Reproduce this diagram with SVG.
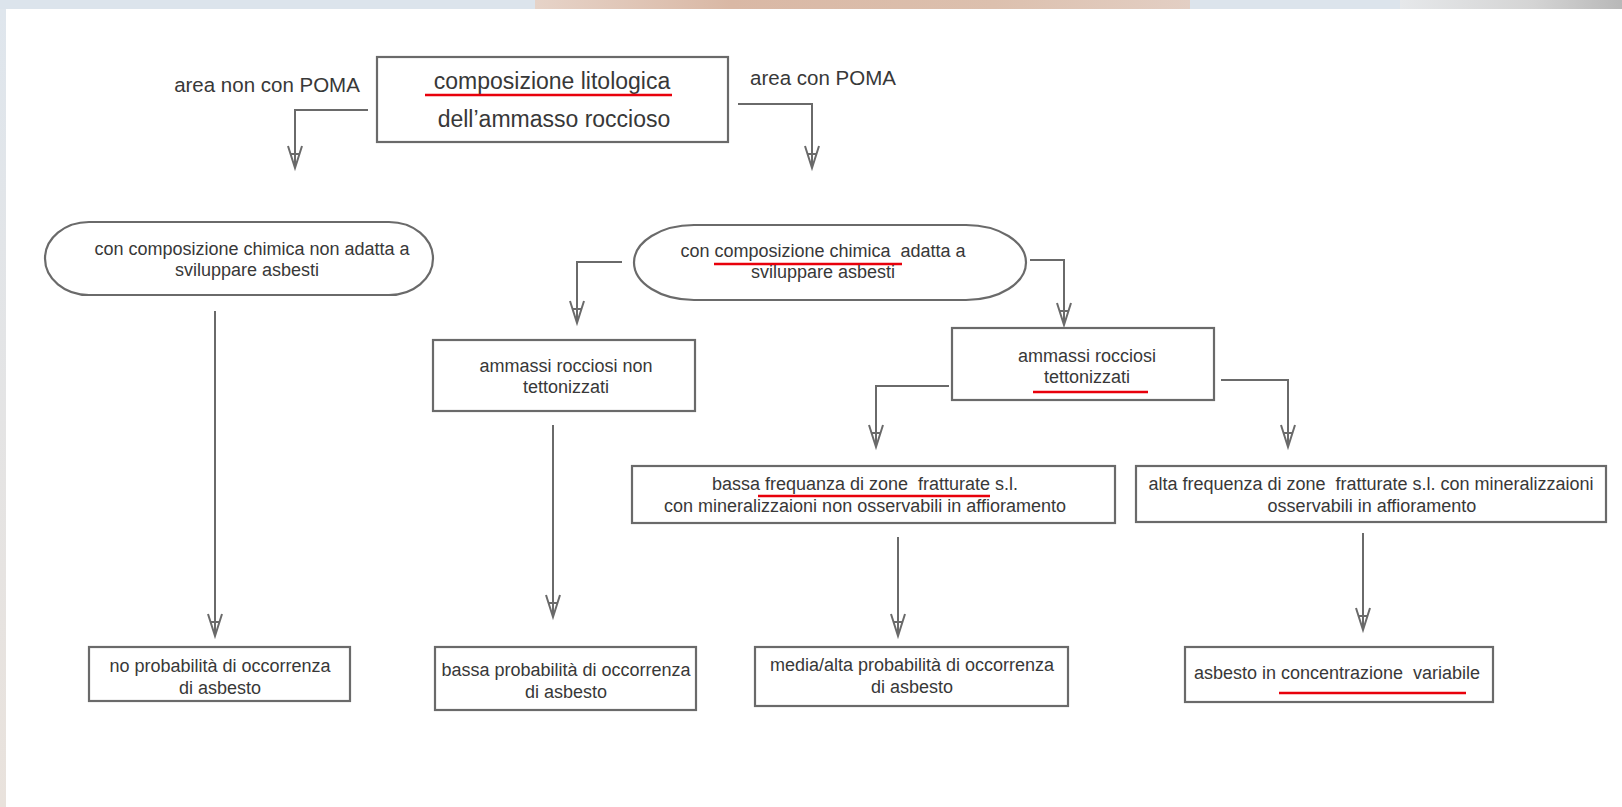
<svg xmlns="http://www.w3.org/2000/svg" width="1622" height="807" viewBox="0 0 1622 807">
<style>
.nd{fill:#fff;stroke:#6a6a6a;stroke-width:2.2}
.t{font-family:"Liberation Sans",Arial,sans-serif;font-size:18px;fill:#383838;text-anchor:middle}
.tl{font-size:23px}
.tp{font-size:20.5px}
.cn{fill:none;stroke:#6a6a6a;stroke-width:2;marker-end:url(#arr)}
.ul{stroke:#e8000b;stroke-width:2.5}
</style>
<defs>
<marker id="arr" markerUnits="userSpaceOnUse" markerWidth="30" markerHeight="20" viewBox="-25 -10 30 20" refX="0" refY="0" orient="auto" overflow="visible">
<path d="M-22,-7 L0,0 L-22,7 M-14,-4.5 L-14,4.5" fill="none" stroke="#6a6a6a" stroke-width="2"/>
</marker>
<linearGradient id="photo" x1="0" x2="1" y1="0" y2="0">
<stop offset="0" stop-color="#e6d3c8"/>
<stop offset="0.3" stop-color="#d9b8a5"/>
<stop offset="0.7" stop-color="#dcc0ae"/>
<stop offset="1" stop-color="#e3cfc4"/>
</linearGradient>
<linearGradient id="swirl" x1="0" x2="1" y1="0" y2="0">
<stop offset="0" stop-color="#e6e8ea"/>
<stop offset="0.6" stop-color="#d4d4d4"/>
<stop offset="1" stop-color="#b8b8b8"/>
</linearGradient>
<linearGradient id="lstrip" x1="0" x2="0" y1="0" y2="1">
<stop offset="0" stop-color="#dfe6ed"/>
<stop offset="1" stop-color="#e9e2dc"/>
</linearGradient>
</defs>
<g id="background">
<rect x="0" y="0" width="1622" height="807" fill="#fff"/>
<rect x="0" y="0" width="1622" height="9" fill="#dce4ec"/>
<rect x="535" y="0" width="655" height="9" fill="url(#photo)"/>
<rect x="1400" y="0" width="222" height="9" fill="url(#swirl)"/>
<rect x="0" y="9" width="6" height="798" fill="url(#lstrip)"/>
</g>
<g id="connectors">
<path class="cn" d="M368,110 H295 V168"/>
<path class="cn" d="M738,104 H812 V168"/>
<path class="cn" d="M215,311 V636"/>
<path class="cn" d="M622,262 H577 V323"/>
<path class="cn" d="M1030,260 H1064 V325"/>
<path class="cn" d="M553,425 V617"/>
<path class="cn" d="M949,386 H876 V447"/>
<path class="cn" d="M1221,380 H1288 V447"/>
<path class="cn" d="M898,537 V636"/>
<path class="cn" d="M1363,533 V630"/>
</g>
<g id="label-area-non-poma"><text class="t tp" x="267" y="92">area non con POMA</text></g>
<g id="label-area-poma"><text class="t tp" x="823" y="85">area con POMA</text></g>
<g id="n-composizione">
<rect class="nd" x="377" y="57" width="351" height="85"/>
<text class="t tl" x="552" y="89">composizione litologica</text>
<line class="ul" x1="425" y1="95" x2="672" y2="95"/>
<text class="t tl" x="554" y="127">dell’ammasso roccioso</text>
</g>
<g id="n-non-adatta">
<rect class="nd" x="45" y="222" width="388" height="73" rx="44" ry="36.5"/>
<text class="t" x="252" y="255">con composizione chimica non adatta a</text>
<text class="t" x="247" y="276">sviluppare asbesti</text>
</g>
<g id="n-adatta">
<rect class="nd" x="634" y="225" width="392" height="75" rx="60" ry="37.5"/>
<text class="t" x="823" y="257" xml:space="preserve">con composizione chimica  adatta a</text>
<line class="ul" x1="714" y1="264" x2="902" y2="264"/>
<text class="t" x="823" y="278">sviluppare asbesti</text>
</g>
<g id="n-non-tettonizzati">
<rect class="nd" x="433" y="340" width="262" height="71"/>
<text class="t" x="566" y="372">ammassi rocciosi non</text>
<text class="t" x="566" y="393">tettonizzati</text>
</g>
<g id="n-tettonizzati">
<rect class="nd" x="952" y="328" width="262" height="72"/>
<text class="t" x="1087" y="362">ammassi rocciosi</text>
<text class="t" x="1087" y="383">tettonizzati</text>
<line class="ul" x1="1033" y1="392" x2="1148" y2="392"/>
</g>
<g id="n-bassa-frequenza">
<rect class="nd" x="632" y="466" width="483" height="57"/>
<text class="t" x="865" y="490" xml:space="preserve">bassa frequanza di zone  fratturate s.l.</text>
<line class="ul" x1="758" y1="496" x2="990" y2="496"/>
<text class="t" x="865" y="512">con mineralizzaioni non osservabili in affioramento</text>
</g>
<g id="n-alta-frequenza">
<rect class="nd" x="1136" y="466" width="470" height="56"/>
<text class="t" x="1371" y="490" xml:space="preserve">alta frequenza di zone  fratturate s.l. con mineralizzaioni</text>
<text class="t" x="1372" y="512">osservabili in affioramento</text>
</g>
<g id="n-no-probabilita">
<rect class="nd" x="89" y="647" width="261" height="54"/>
<text class="t" x="220" y="672">no probabilità di occorrenza</text>
<text class="t" x="220" y="694">di asbesto</text>
</g>
<g id="n-bassa-probabilita">
<rect class="nd" x="435" y="647" width="261" height="63"/>
<text class="t" x="566" y="676">bassa probabilità di occorrenza</text>
<text class="t" x="566" y="698">di asbesto</text>
</g>
<g id="n-media-alta">
<rect class="nd" x="755" y="647" width="313" height="59"/>
<text class="t" x="912" y="671">media/alta probabilità di occorrenza</text>
<text class="t" x="912" y="693">di asbesto</text>
</g>
<g id="n-asbesto-variabile">
<rect class="nd" x="1185" y="647" width="308" height="55"/>
<text class="t" x="1337" y="679" xml:space="preserve">asbesto in concentrazione  variabile</text>
<line class="ul" x1="1279" y1="693" x2="1466" y2="693"/>
</g>
</svg>
